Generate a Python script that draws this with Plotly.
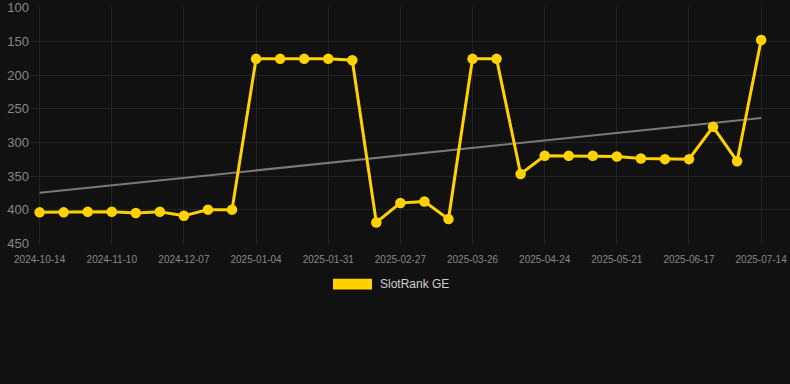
import plotly.graph_objects as go

dates = [
    "2024-10-14", "2024-10-23", "2024-11-01", "2024-11-10", "2024-11-19", "2024-11-28",
    "2024-12-07", "2024-12-16", "2024-12-25", "2025-01-04", "2025-01-13", "2025-01-22",
    "2025-01-31", "2025-02-09", "2025-02-18", "2025-02-27", "2025-03-08", "2025-03-17",
    "2025-03-26", "2025-04-04", "2025-04-14", "2025-04-24", "2025-05-03", "2025-05-12",
    "2025-05-21", "2025-05-30", "2025-06-08", "2025-06-17", "2025-06-26", "2025-07-05",
    "2025-07-14",
]
rank_ge = [
    404, 404, 403, 403, 405, 403, 409, 400, 400, 176, 176, 176, 176, 178,
    419, 390, 388, 414, 176, 176, 347, 320, 320, 320, 321, 324, 325, 325,
    277, 328, 148,
]
trend_dates = ["2024-10-14", "2025-07-14"]
trend_values = [375, 264]
tick_labels = dates[::3]
y_ticks = [100, 150, 200, 250, 300, 350, 400, 450]
series_name = "SlotRank GE"

gold = "#FFD200"
W, H = 790, 384
L, R, T, B = 30, 0, 5, 140

fig = go.Figure()
fig.add_trace(go.Scatter(
    x=trend_dates, y=trend_values, mode="lines",
    line=dict(color="#7a7a7a", width=2), showlegend=False, hoverinfo="skip",
))
fig.add_trace(go.Scatter(
    x=dates, y=rank_ge, mode="lines+markers", name=series_name,
    line=dict(color=gold, width=3), marker=dict(color=gold, size=10.5),
    cliponaxis=False, showlegend=False,
))

# manual legend (box + text)
pw = W - L - R
ph = H - T - B
def px_x(v):
    return (v - L) / pw
def px_y(v):
    return (H - B - v) / ph

fig.add_shape(type="rect", xref="paper", yref="paper",
              x0=px_x(333), x1=px_x(372), y0=px_y(290), y1=px_y(279),
              fillcolor=gold, line=dict(width=0))
fig.add_annotation(xref="paper", yref="paper", x=px_x(378), y=px_y(284.5),
                   text=series_name, showarrow=False, xanchor="left", yanchor="middle",
                   font=dict(size=12, color="#d0d0d0", family="Arial, Liberation Sans"))

fig.update_layout(
    width=W, height=H,
    margin=dict(l=L, r=R, t=T, b=B),
    paper_bgcolor="#111111", plot_bgcolor="#111111",
    font=dict(family="Arial, Liberation Sans", color="#888888"),
    xaxis=dict(
        type="category", categoryorder="array", categoryarray=dates,
        range=[-0.4, 31.2],
        tickmode="array", tickvals=tick_labels, ticktext=tick_labels,
        tickfont=dict(size=10, color="#888888"), tickangle=0,
        ticklabelstandoff=8,
        showgrid=True, gridcolor="#242424", gridwidth=1,
        zeroline=False, showline=False, ticks="",
    ),
    yaxis=dict(
        range=[451, 99], tickvals=y_ticks,
        tickfont=dict(size=13, color="#888888"),
        ticklabeloverflow="allow",
        showgrid=True, gridcolor="#242424", gridwidth=1,
        zeroline=False, showline=False, ticks="",
    ),
)

fig.write_html("out.html", config={"displayModeBar": False},
               post_script="document.body.style.margin='0';")
